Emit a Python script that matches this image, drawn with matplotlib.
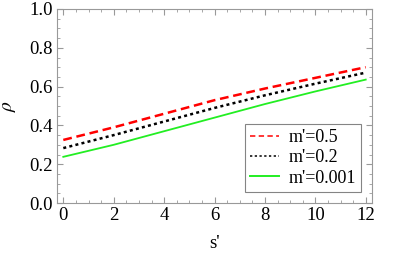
import numpy as np
import matplotlib
matplotlib.use('Agg')
import matplotlib.pyplot as plt
from matplotlib.ticker import MultipleLocator

# values
s = [0, 2, 4, 6, 8, 10, 12]
rho_05 = [0.325, 0.39, 0.46, 0.53, 0.59, 0.645, 0.70]
rho_02 = [0.283, 0.35, 0.42, 0.49, 0.555, 0.615, 0.672]
rho_0001 = [0.238, 0.30, 0.37, 0.44, 0.51, 0.575, 0.636]
labels = ["m'=0.5", "m'=0.2", "m'=0.001"]

plt.rcParams['font.family'] = ['Liberation Serif', 'DejaVu Serif']
plt.rcParams['mathtext.fontset'] = 'stix'

fig = plt.figure(figsize=(4.15, 2.6), dpi=100)
ax = fig.add_axes([57 / 415, 1 - 203 / 260, 315 / 415, 194 / 260])

ax.plot(s, rho_05, color='#ff0000', lw=1.8, ls=(0, (3.5, 1.9)), label=labels[0])
ax.plot(s, rho_02, color='black', lw=1.8, ls=(0, (1.2, 1.3)), label=labels[1])
ax.plot(s, rho_0001, color='#22ee22', lw=1.3, label=labels[2])

ax.set_xlim(-0.25, 12.25)
ax.set_ylim(0, 1.0)
ax.xaxis.set_major_locator(MultipleLocator(2))
ax.xaxis.set_minor_locator(MultipleLocator(0.5))
ax.yaxis.set_major_locator(MultipleLocator(0.2))
ax.yaxis.set_minor_locator(MultipleLocator(0.05))
ax.yaxis.set_major_formatter(matplotlib.ticker.FormatStrFormatter('%.1f'))

for sp in ax.spines.values():
    sp.set_color('#999999')
    sp.set_linewidth(0.8)
ax.tick_params(which='both', direction='in', top=True, right=True,
               color='#999999', labelsize=13.5, pad=3)
ax.tick_params(which='major', length=4, width=0.8)
ax.tick_params(which='minor', length=2, width=0.6)

ax.set_xlabel("s'", fontsize=13.5, labelpad=8)
ax.set_ylabel(r'$\rho$', fontsize=14, labelpad=8)

leg = ax.legend(loc='lower right', bbox_to_anchor=(1.0, 0.0), fontsize=13,
                frameon=True, fancybox=False, handlelength=1.6,
                handletextpad=0.5, borderpad=0.3, labelspacing=0.18,
                borderaxespad=0.6)
leg.get_frame().set_edgecolor('#666666')
leg.get_frame().set_linewidth(0.8)
# thinner lines in the legend, like the reference
h = leg.legend_handles
h[0].set_linewidth(1.1)
h[0].set_linestyle((0, (3.5, 2.2)))
h[1].set_linewidth(1.1)
h[1].set_linestyle((0, (1.5, 1.6)))
h[2].set_linewidth(1.4)

fig.savefig('out.png', dpi=100)
